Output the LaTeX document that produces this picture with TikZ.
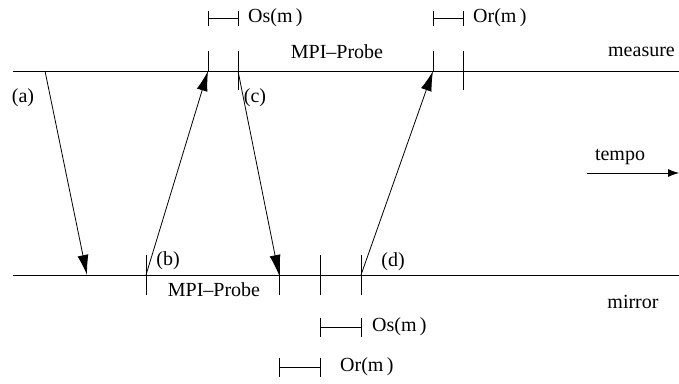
\documentclass[tikz,border=0pt]{standalone}
\usepackage{fontspec}
\setmainfont{Liberation Serif}
\usetikzlibrary{arrows.meta,positioning}
\tikzset{
  msg/.style = {-{Latex[length=20pt,width=11pt]}, line width=0.8pt},
  axis/.style = {-{Latex[length=11pt,width=8pt]}, line width=0.8pt},
  tickline/.style = {line width=0.8pt},
  lbl/.style = {font=\fontsize{20}{24}\selectfont, inner sep=0pt}
}

\begin{document}
\begin{tikzpicture}[x = 1pt, y = -1pt]
\useasboundingbox (0,0) rectangle (679,383);
% Time lines
\coordinate (ms0) at (13,71);
\coordinate (ms1) at (679,71);
\coordinate (mr0) at (13,275);
\coordinate (mr1) at (679,275);
\draw[tickline] (ms0) -- (ms1);
\draw[tickline] (mr0) -- (mr1);
\node[lbl, anchor = east] (measure) at (675,52) {measure};
\node[lbl] (mirror) at (633,302) {mirror};
% Ticks on measure
\coordinate (sa) at (208,71);
\coordinate (sb) at (238,71);
\coordinate (sc) at (433,71);
\coordinate (sd) at (463,71);
\draw[tickline] (208,51) -- (sa);
\draw[tickline] (238,51) -- (238,90);
\draw[tickline] (433,51) -- (sc);
\draw[tickline] (463,51) -- (463,90);
\node[lbl] (probeS) at (337,52) {MPI--Probe};
% Ticks on mirror
\coordinate (ra) at (146,275);
\coordinate (rb) at (279,275);
\coordinate (rc) at (320,275);
\coordinate (rd) at (361,275);
\foreach \x in {146,279,320,361}
  \draw[tickline] (\x,255) -- (\x,295);
\node[lbl] (probeR) at (214,290) {MPI--Probe};
% Messages
\coordinate (a0) at (45,71);
\coordinate (a1) at (87,275);
\draw[msg] (a0) -- (a1);
\draw[msg] (ra) -- (sa);
\draw[msg] (sb) -- (rb);
\draw[msg] (rd) -- (sc);
\node[lbl] (la) at (23,98) {(a)};
\node[lbl] (lb) at (168,261) {(b)};
\node[lbl] (lc) at (255,98) {(c)};
\node[lbl] (ld) at (393,262) {(d)};
% Overheads
\draw[tickline] (208,11) -- (208,26) (208,18) -- (238,18) (238,11) -- (238,26);
\node[lbl, anchor = west] (osS) at (248,18) {Os(m\,)};
\draw[tickline] (433,11) -- (433,26) (433,18) -- (463,18) (463,11) -- (463,26);
\node[lbl, anchor = west] (orS) at (473,18) {Or(m\,)};
\draw[tickline] (320,318) -- (320,337) (320,327) -- (361,327) (361,318) -- (361,337);
\node[lbl, anchor = west] (osR) at (372,327) {Os(m\,)};
\draw[tickline] (279,358) -- (279,377) (279,367) -- (320,367) (320,358) -- (320,377);
\node[lbl, anchor = west] (orR) at (340,367) {Or(m\,)};
% Time axis
\node[lbl] (tempo) at (620,157) {tempo};
\coordinate (t0) at (587,173);
\coordinate (t1) at (679,173);
\draw[axis] (t0) -- (t1);
\end{tikzpicture}
\end{document}
